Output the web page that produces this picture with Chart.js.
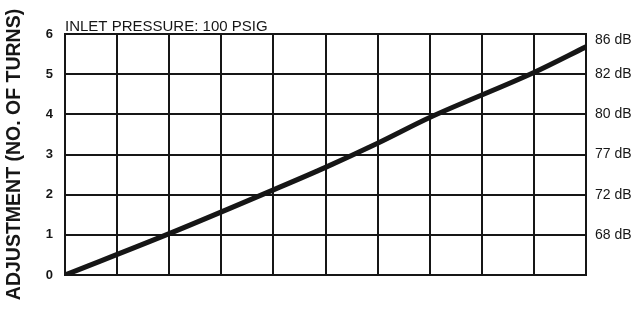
<!DOCTYPE html>
<html>
<head>
<meta charset="utf-8">
<script src="https://cdn.jsdelivr.net/npm/chart.js@4/dist/chart.umd.min.js"></script>
<style>
  html, body { margin: 0; padding: 0; background: #fff; }
  #wrap { width: 639px; height: 310px; }
</style>
</head>
<body>
<div id="wrap"><canvas id="c" width="639" height="310"></canvas></div>
<script>
// Data
const settingX = [0, 2, 4, 5, 6, 7, 9, 10];                  // horizontal position (grid columns)
const turnsY   = [0, 1.03, 2.12, 2.68, 3.28, 3.92, 5.04, 5.68]; // adjustment (no. of turns)
const dbTurns  = [1, 2, 3, 4, 5, 5.85];                      // turns at which the dB labels sit
const dbLabels = ['68 dB', '72 dB', '77 dB', '80 dB', '82 dB', '86 dB'];
const chartTitle = 'INLET PRESSURE: 100 PSIG';
const yTitle = 'ADJUSTMENT (NO. OF TURNS)';

const ink = '#161616';
const FONT = "'Liberation Sans', Arial, sans-serif";

const points = settingX.map((x, i) => ({ x: x, y: turnsY[i] }));

new Chart(document.getElementById('c'), {
  type: 'line',
  data: {
    datasets: [{
      data: points,
      borderColor: ink,
      borderWidth: 5,
      pointRadius: 0,
      cubicInterpolationMode: 'monotone',
      fill: false
    }]
  },
  options: {
    responsive: false,
    animation: false,
    layout: { padding: 0 },
    plugins: { legend: { display: false }, tooltip: { enabled: false } },
    scales: {
      x: {
        type: 'linear', position: 'bottom', min: 0, max: 10,
        ticks: { display: false, stepSize: 1 },
        grid: { color: ink, lineWidth: 2, drawTicks: false },
        border: { color: ink, width: 2 },
        afterFit: s => { s.height = 35; }
      },
      x2: {
        type: 'linear', position: 'top', min: 0, max: 10,
        ticks: { display: false },
        grid: { display: false, drawTicks: false },
        border: { color: ink, width: 2 },
        title: {
          display: true, text: chartTitle, align: 'start', color: ink,
          font: { family: FONT, size: 15 }, padding: { top: 18, bottom: 0 }
        },
        afterFit: s => { s.height = 34; }
      },
      y: {
        type: 'linear', position: 'left', min: 0, max: 6,
        ticks: { stepSize: 1, color: ink, padding: 12, font: { family: FONT, size: 13, weight: 'bold' } },
        grid: { color: ink, lineWidth: 2, drawTicks: false },
        border: { color: ink, width: 2 },
        title: {
          display: true, text: yTitle, color: ink,
          font: { family: FONT, size: 19.5, weight: 'bold' }, padding: { top: 3, bottom: 0 }
        },
        afterFit: s => { s.width = 65; }
      },
      y2: {
        type: 'linear', position: 'right', min: 0, max: 6,
        afterBuildTicks: s => { s.ticks = dbTurns.map(v => ({ value: v })); },
        ticks: {
          color: ink, padding: 9, font: { family: FONT, size: 14 },
          callback: (v) => { const i = dbTurns.indexOf(v); return i >= 0 ? dbLabels[i] : ''; }
        },
        grid: { display: false, drawTicks: false },
        border: { color: ink, width: 2 },
        afterFit: s => { s.width = 53; }
      }
    }
  }
});
</script>
</body>
</html>
